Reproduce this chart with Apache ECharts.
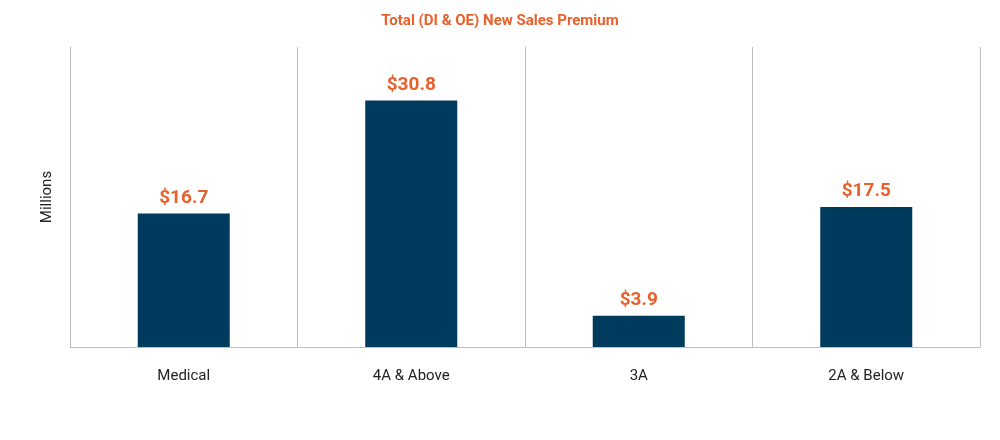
<!DOCTYPE html>
<html>
<head>
<meta charset="utf-8">
<script src="https://cdn.jsdelivr.net/npm/echarts@6/dist/echarts.min.js"></script>
<style>html,body{margin:0;background:#fff}</style>
</head>
<body>
<div id="main" style="width:1000px;height:440px"></div>
<script>
const categories = ["Medical", "4A & Above", "3A", "2A & Below"];
const premium = [16.7, 30.8, 3.9, 17.5];

const myChart = echarts.init(document.getElementById("main"));
const option = {
    title: {
        text: "Total (DI & OE) New Sales Premium",
        left: "center", top: 9,
        textStyle: {color: "#E8602C", fontSize: 15, fontWeight: "bold", fontFamily: "Roboto"}
    },
    grid: {left: 70, right: 20, top: 47, bottom: 93},
    xAxis: {
        type: "category",
        data: categories,
        axisLine: {lineStyle: {color: "#bfbfbf"}},
        axisTick: {show: false},
        splitLine: {show: true, lineStyle: {color: "#bfbfbf"}},
        axisLabel: {color: "#222", fontSize: 15, margin: 22, fontFamily: "Roboto"}
    },
    yAxis: {
        type: "value",
        min: 0, max: 37.5,
        name: "Millions",
        nameLocation: "middle",
        nameGap: 15,
        nameTextStyle: {color: "#222", fontSize: 15, fontFamily: "Roboto"},
        axisLine: {show: true, lineStyle: {color: "#bfbfbf"}},
        axisLabel: {show: false},
        axisTick: {show: false},
        splitLine: {show: false}
    },
    series: [{
        type: "bar",
        data: premium,
        barWidth: 92,
        itemStyle: {color: "#003A5C"},
        label: {
            show: true, position: "top", distance: 6,
            formatter: p => "$" + p.value.toFixed(1),
            color: "#E8602C", fontSize: 19, fontWeight: "bold", fontFamily: "Roboto"
        }
    }]
};
myChart.setOption(option);
</script>
</body>
</html>
